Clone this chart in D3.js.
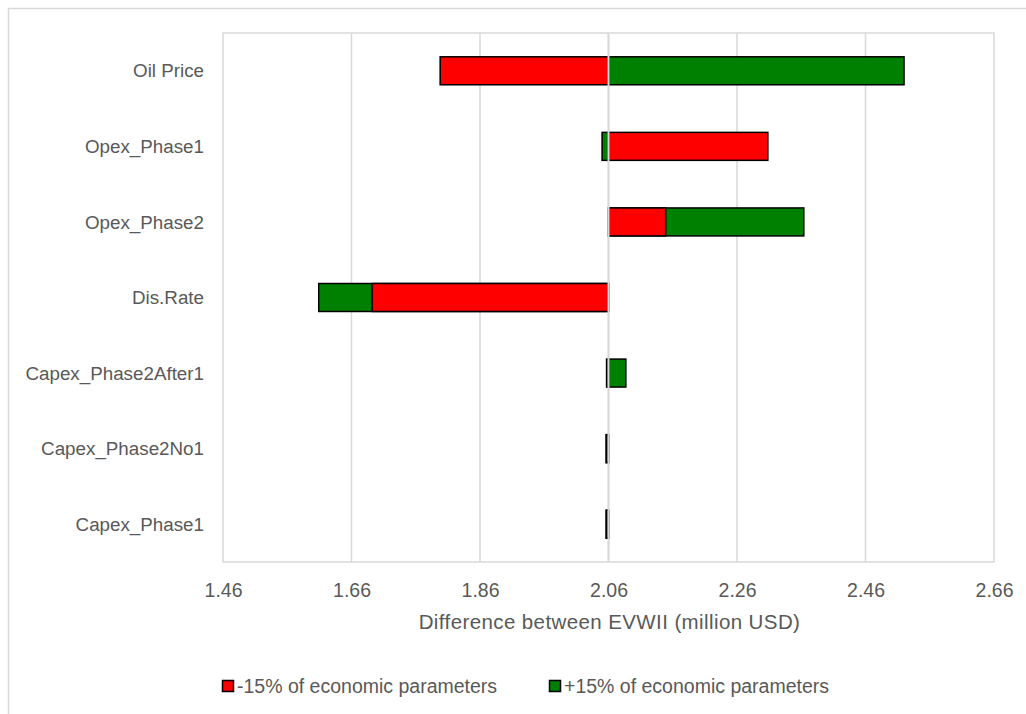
<!DOCTYPE html>
<html>
<head>
<meta charset="utf-8">
<script src="https://cdn.jsdelivr.net/npm/d3@7"></script>
<style>
  html, body { margin: 0; padding: 0; background: #fff; }
  svg { display: block; }
  text { font-family: "Liberation Sans", Arial, sans-serif; fill: #595959; }
</style>
</head>
<body>
<svg id="chart" width="1026" height="714"></svg>
<script>
// Sensitivity of EVWII to ±15% changes in each economic parameter
const categories = ["Oil Price", "Opex_Phase1", "Opex_Phase2", "Dis.Rate",
                    "Capex_Phase2After1", "Capex_Phase2No1", "Capex_Phase1"];
const baseValue = 2.06;
const minus15 = [1.798, 2.308, 2.149, 1.692, 2.057, 2.0565, 2.0565];
const plus15  = [2.520, 2.050, 2.364, 1.609, 2.087, 2.0565, 2.0565];
const xTicks = [1.46, 1.66, 1.86, 2.06, 2.26, 2.46, 2.66];
const seriesNames = ["-15% of economic parameters", "+15% of economic parameters"];
const seriesColors = ["#ff0000", "#008000"];

const svg = d3.select("#chart");
const plot = { left: 223, right: 994, top: 33, bottom: 562 };
const grey = "#d9d9d9";

// outer chart frame
svg.append("rect")
  .attr("x", 8.5).attr("y", 8.5)
  .attr("width", 1040).attr("height", 740)
  .attr("fill", "none").attr("stroke", grey).attr("stroke-width", 1.5);

const x = d3.scaleLinear().domain([1.46, 2.66]).range([plot.left, plot.right]);
const y = d3.scaleBand().domain(categories).range([plot.top, plot.bottom]).paddingInner(0.63).paddingOuter(0.315);

// gridlines
svg.append("g").selectAll("line").data(xTicks.slice(1, -1)).join("line")
  .attr("x1", d => x(d)).attr("x2", d => x(d))
  .attr("y1", plot.top).attr("y2", plot.bottom)
  .attr("stroke", grey).attr("stroke-width", 1.5);

// plot-area border
svg.append("rect")
  .attr("x", plot.left).attr("y", plot.top)
  .attr("width", plot.right - plot.left).attr("height", plot.bottom - plot.top)
  .attr("fill", "none").attr("stroke", grey).attr("stroke-width", 1.5);

// bars: +15% first, -15% on top
const rows = categories.map((c, i) => ({ c, lo: minus15[i], hi: plus15[i] }));
const drawSeries = (key, color) => {
  svg.append("g").selectAll("rect").data(rows).join("rect")
    .attr("x", d => x(Math.min(baseValue, d[key])))
    .attr("width", d => Math.abs(x(d[key]) - x(baseValue)))
    .attr("y", d => y(d.c))
    .attr("height", y.bandwidth())
    .attr("fill", color)
    .attr("stroke", "#000").attr("stroke-width", 1.5);
};
drawSeries("hi", seriesColors[1]);
drawSeries("lo", seriesColors[0]);

// vertical axis line at the base value, drawn above the bars
svg.append("line")
  .attr("x1", x(baseValue)).attr("x2", x(baseValue))
  .attr("y1", plot.top).attr("y2", plot.bottom)
  .attr("stroke", grey).attr("stroke-width", 2);

// category labels
svg.append("g").selectAll("text").data(categories).join("text")
  .attr("x", 204)
  .attr("y", d => y(d) + y.bandwidth() / 2)
  .attr("dy", "0.35em")
  .attr("text-anchor", "end")
  .attr("font-size", 18.8)
  .text(d => d);

// x tick labels
const xAxis = d3.axisBottom(x).tickValues(xTicks).tickFormat(d3.format(".2f")).tickSize(0).tickPadding(0);
const gx = svg.append("g").attr("transform", `translate(0,${plot.bottom})`).call(xAxis);
gx.select(".domain").remove();
gx.selectAll("text")
  .attr("y", 28).attr("dy", "0.35em")
  .attr("font-size", 19.5)
  .attr("font-family", "Liberation Sans, Arial, sans-serif")
  .attr("fill", "#595959");

// axis title
svg.append("text")
  .attr("x", (plot.left + plot.right) / 2 + 1)
  .attr("y", 622).attr("dy", "0.35em")
  .attr("text-anchor", "middle")
  .attr("font-size", 20.5)
  .attr("letter-spacing", 0.4)
  .text("Difference between EVWII (million USD)");

// legend
const legendX = [222, 549];
const lg = svg.append("g").selectAll("g").data(seriesNames).join("g")
  .attr("transform", (d, i) => `translate(${legendX[i]},686)`);
lg.append("rect")
  .attr("x", 0.5).attr("y", -5.5).attr("width", 11).attr("height", 11)
  .attr("fill", (d, i) => seriesColors[i])
  .attr("stroke", "#000").attr("stroke-width", 1.5);
lg.append("text")
  .attr("x", 15).attr("dy", "0.35em")
  .attr("font-size", 19.5)
  .text(d => d);
</script>
</body>
</html>
